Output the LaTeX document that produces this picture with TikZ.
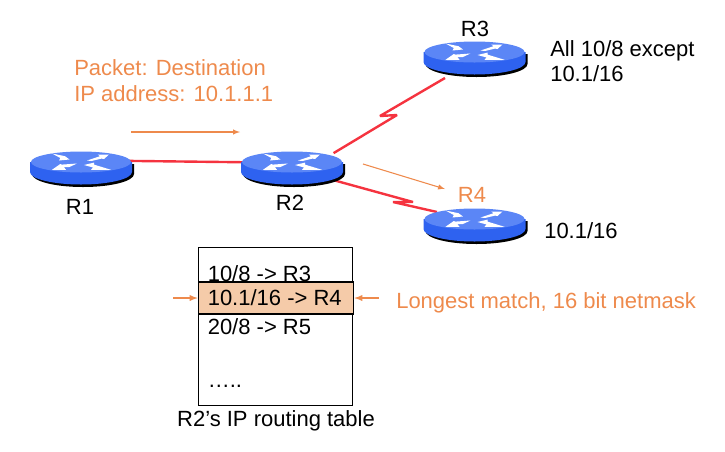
\documentclass[tikz,border=0pt]{standalone}
\usepackage{fontspec}
\setmainfont{Liberation Sans}
\usepackage{xcolor}
\usetikzlibrary{shapes.geometric}

\definecolor{pktorange}{HTML}{EE8A4C}
\definecolor{rowfill}{HTML}{F5CBA9}
\definecolor{routertop}{HTML}{5B86F6}
\definecolor{routerside}{HTML}{2E62F0}
\definecolor{linkred}{HTML}{F5333F}

\tikzset{
  routernode/.style={ellipse,draw=none,fill=none,inner sep=0pt,minimum width=78pt,minimum height=25.5pt},
  blacktext/.style={font=\fontsize{16.5}{20}\selectfont,text=black,inner sep=0pt},
  orangetext/.style={font=\fontsize{16.5}{20}\selectfont,text=pktorange,inner sep=0pt},
  wanlink/.style={draw=linkred,line width=1.8pt,line join=bevel},
  pktarrow/.style={-latex,draw=pktorange,line width=0.8pt},
  rowarrow/.style={-latex,draw=pktorange,line width=1.1pt}
}

\newcommand{\routerarrows}{
  \fill[white] (-29,-8.5) -- (-16,-5.8) -- (-11.5,-2.5) -- (-22,-1.5) -- (-20.7,-4) -- cycle;
  \fill[white] (6,-1.5) -- (19,-5.8) -- (16.7,-7.5) -- (28,-7.5) -- (23,-3) -- (20.5,-3.4) -- (10.5,-1) -- cycle;
  \fill[white] (-29,7.8) -- (-20.7,2) -- (-19,2.6) -- (-4,1.5) -- (-12,5.2) -- (-17,5.2) -- (-15,7.8) -- cycle;
  \fill[white] (3,3) -- (13,0.6) -- (13,2.6) -- (30,7.8) -- (10,7.8) -- (12,5.5) -- cycle;
}

\begin{document}
\begin{tikzpicture}[x=0.75pt,y=-0.75pt]
   \useasboundingbox (0,0) rectangle (725,451);

   \foreach \rname/\rx/\ry in {R1/81/162,R2/292/162,R3/474.5/52,R4/474.5/219} {
     \node[routernode] (\rname) at (\rx,\ry+7) {};
   }

   \coordinate (zigA) at (397,115);
   \coordinate (zigB) at (380,116);
   \coordinate (zigC) at (413,202);
   \coordinate (zigD) at (393,202);
   \coordinate (endR3) at (445,78);
   \coordinate (endR4) at (437,212);

   \draw[wanlink] (R1.10) -- (R2.172);
   \draw[wanlink] ([shift={(1,-5)}]R2.15) -- (zigA) -- (zigB) -- (endR3);
   \draw[wanlink] (R2.-15) -- (zigC) -- (zigD) -- (endR4);

   \foreach \rx/\ry in {81/162,292/162,474.5/52,474.5/219} {
     \begin{scope}[shift={(\rx,\ry)}]
       \fill[black] (-49,2) -- (-49,12) arc[start angle=180,end angle=0,x radius=51,y radius=13] -- (53,2) -- cycle;
       \fill[routerside] (-51,0) -- (-51,10) arc[start angle=180,end angle=0,x radius=51,y radius=12.5] -- (51,0) -- cycle;
       \fill[routertop] (0,0) ellipse[x radius=50,y radius=10.5];
       \routerarrows
     \end{scope}
   }

   \node[blacktext] (labelR1) at (80,207) {R1};
   \node[blacktext] (labelR2) at (290,203) {R2};
   \node[blacktext] (labelR3) at (475,29) {R3};
   \node[orangetext] (labelR4) at (472,195) {R4};

   \node[orangetext,anchor=base west] (pktA) at (74,75) {Packet: Destination};
   \node[orangetext,anchor=base west] (pktB) at (74,101) {IP address: 10.1.1.1};
   \coordinate (flowA) at (131,132);
   \coordinate (flowB) at (240,132);
   \coordinate (flowC) at (363,164);
   \coordinate (flowD) at (445,189);
   \draw[pktarrow] (flowA) -- (flowB);
   \draw[pktarrow] (flowC) -- (flowD);

   \node[blacktext,anchor=base west] (allA) at (550,56) {All 10/8 except};
   \node[blacktext,anchor=base west] (allB) at (550,81) {10.1/16};
   \node[blacktext,anchor=base west] (prefix) at (544,238) {10.1/16};

   \node[draw=black,fill=none,line width=0.9pt,minimum width=116pt,minimum height=119pt,inner sep=0pt] (tbl) at (275.5,326.5) {};
   \node[draw=black,fill=rowfill,line width=0.9pt,minimum width=116.5pt,minimum height=24pt,inner sep=0pt] (row) at (276,298) {};

   \node[blacktext,anchor=base west] (rowA) at (207.5,281) {10/8 -> R3};
   \node[blacktext,anchor=base west] (rowB) at (207.5,305) {10.1/16 -> R4};
   \node[blacktext,anchor=base west] (rowC) at (207.5,334) {20/8 -> R5};
   \node[blacktext,anchor=base west] (rowD) at (207.5,387) {…..};
   \node[blacktext] (caption) at (276,421) {R2’s IP routing table};

   \coordinate (rowL) at (173,298);
   \coordinate (rowR) at (379,298);
   \draw[rowarrow] (rowL) -- (row.west);
   \draw[rowarrow] (rowR) -- (row.east);
   \node[orangetext,anchor=base west] (match) at (396,308) {Longest match, 16 bit netmask};
\end{tikzpicture}
\end{document}
